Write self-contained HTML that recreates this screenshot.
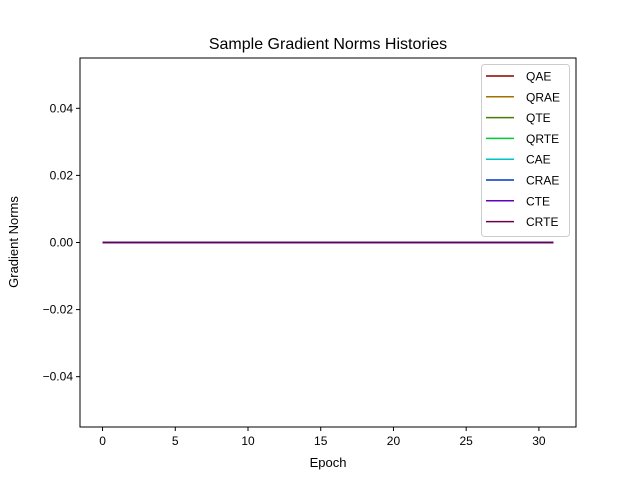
<!DOCTYPE html>
<html><head><meta charset="utf-8"><style>
body{margin:0;background:#fff;}
svg text{font-family:"Liberation Sans","DejaVu Sans",sans-serif;}
</style></head><body>
<svg id="chart" width="640" height="480" xmlns="http://www.w3.org/2000/svg">
<rect width="640" height="480" fill="#fff"/>
<text x="328" y="49" font-size="16" text-anchor="middle">Sample Gradient Norms Histories</text>
<g id="plot"></g>
<rect x="80" y="58" width="496" height="369" fill="none" stroke="#000" stroke-width="1"/>
<text x="328" y="467" font-size="13" text-anchor="middle">Epoch</text>
<text x="18" y="242" font-size="13" text-anchor="middle" transform="rotate(-90 18 242)">Gradient Norms</text>
<g id="legend"></g>
</svg>
<script>
const epochs = Array.from({length:32},(_,i)=>i);
const seriesNames = ["QAE","QRAE","QTE","QRTE","CAE","CRAE","CTE","CRTE"];
const seriesColors = ["#8b0000","#a07000","#4a7a00","#00cc33","#00c4c4","#0033cc","#6000c0","#6a0050"];
const qae  = [0,0,0,0,0,0,0,0,0,0,0,0,0,0,0,0,0,0,0,0,0,0,0,0,0,0,0,0,0,0,0,0];
const qrae = [0,0,0,0,0,0,0,0,0,0,0,0,0,0,0,0,0,0,0,0,0,0,0,0,0,0,0,0,0,0,0,0];
const qte  = [0,0,0,0,0,0,0,0,0,0,0,0,0,0,0,0,0,0,0,0,0,0,0,0,0,0,0,0,0,0,0,0];
const qrte = [0,0,0,0,0,0,0,0,0,0,0,0,0,0,0,0,0,0,0,0,0,0,0,0,0,0,0,0,0,0,0,0];
const cae  = [0,0,0,0,0,0,0,0,0,0,0,0,0,0,0,0,0,0,0,0,0,0,0,0,0,0,0,0,0,0,0,0];
const crae = [0,0,0,0,0,0,0,0,0,0,0,0,0,0,0,0,0,0,0,0,0,0,0,0,0,0,0,0,0,0,0,0];
const cte  = [0,0,0,0,0,0,0,0,0,0,0,0,0,0,0,0,0,0,0,0,0,0,0,0,0,0,0,0,0,0,0,0];
const crte = [0,0,0,0,0,0,0,0,0,0,0,0,0,0,0,0,0,0,0,0,0,0,0,0,0,0,0,0,0,0,0,0];
const xTicks = [0,5,10,15,20,25,30];
const yTicks = [0.04,0.02,0,-0.02,-0.04];
const yTickLabels = ["0.04","0.02","0.00","\u22120.02","\u22120.04"];

const NS="http://www.w3.org/2000/svg";
const L=80,R=576,T=58,B=427;
const xMin=-1.55,xMax=32.55,yMin=-0.055,yMax=0.055;
const xs=v=>L+(v-xMin)/(xMax-xMin)*(R-L);
const ys=v=>B-(v-yMin)/(yMax-yMin)*(B-T);
function mk(tag,attrs,parent){const e=document.createElementNS(NS,tag);for(const k in attrs)e.setAttribute(k,attrs[k]);parent.appendChild(e);return e;}
const svg=document.getElementById('chart');
const plot=document.getElementById('plot');
xTicks.forEach(t=>{
  const x=xs(t);
  const l=mk('line',{x1:x,x2:x,y1:B,y2:B+4,stroke:'#000'},svg);
  
  
  const tx=mk('text',{x:x,y:B+18,'font-size':12,'text-anchor':'middle'},svg);
  tx.textContent=t;
  
  
});
yTicks.forEach((t,i)=>{
  const y=ys(t);
  const l=mk('line',{x1:L-4,x2:L,y1:y,y2:y,stroke:'#000'},svg);
  
  
  const tx=mk('text',{x:L-7,y:y+4,'font-size':12,'text-anchor':'end'},svg);
  tx.textContent=yTickLabels[i];
  
  
});
const allSeries=[qae,qrae,qte,qrte,cae,crae,cte,crte];
allSeries.forEach((s,i)=>{
  const p=mk('polyline',{points:s.map((v,j)=>xs(epochs[j])+','+ys(v)).join(' '),fill:'none',stroke:seriesColors[i],'stroke-width':1.5},plot);
  
  
});
const leg=document.getElementById('legend');
const lb=mk('rect',{x:481.5,y:64.5,width:88,height:172,rx:3,fill:'#fff','fill-opacity':0.8,stroke:'#ccc'},leg);


seriesNames.forEach((n,i)=>{
  const y=76+i*20.8;
  const l=mk('line',{x1:486,x2:514,y1:y,y2:y,stroke:seriesColors[i],'stroke-width':1.5},leg);
  
  
  const t=mk('text',{x:526,y:y+4.5,'font-size':12},leg);
  t.textContent=n;
  
  
});
</script>
</body></html>
